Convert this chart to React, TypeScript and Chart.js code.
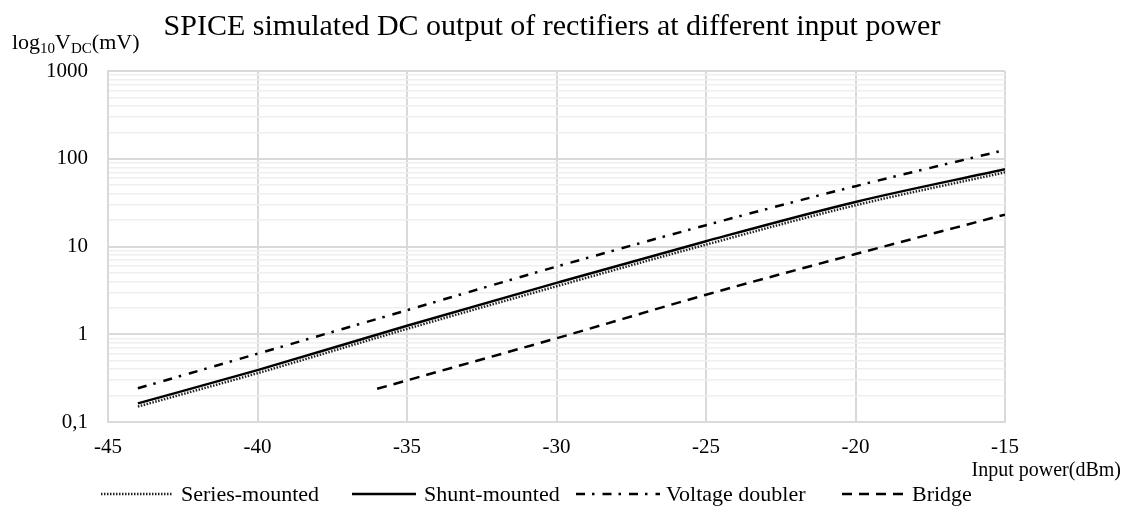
import React, { useEffect, useRef } from 'react';
import { Chart, registerables } from 'chart.js';

Chart.register(...registerables);

// ---- data ----
const xPower = [-44, -40, -35, -30, -25, -20, -15];
const seriesMounted = [0.15, 0.36, 1.15, 3.52, 10.5, 29.5, 70];
const shuntMounted = [0.163, 0.39, 1.25, 3.85, 11.5, 32.2, 76];
const voltageDoubler = [0.242, 0.6, 1.88, 5.9, 17.5, 48.7, 126];
const xBridge = [-36, -35, -30, -25, -20, -15];
const bridge = [0.239, 0.298, 0.9, 2.82, 8.2, 23.1];

const xTickValues = [-45, -40, -35, -30, -25, -20, -15];
const yTickValues = [0.1, 1, 10, 100, 1000];
const yTickLabels = ['0,1', '1', '10', '100', '1000'];
const seriesNames = ['Series-mounted', 'Shunt-mounted', 'Voltage doubler', 'Bridge'];

const TITLE = 'SPICE simulated DC output of rectifiers at different input power';
const X_TITLE = 'Input power(dBm)';

const FONT = "'Liberation Serif', 'Times New Roman', serif";

const toPoints = (xs: number[], ys: number[]) => xs.map((x, i) => ({ x, y: ys[i] }));

const legendLayout = [
  { sx: 101, ex: 172, tx: 181 },
  { sx: 352, ex: 416, tx: 424 },
  { sx: 576, ex: 660, tx: 666 },
  { sx: 842, ex: 905, tx: 912 },
];

const decorPlugin = {
  id: 'decor',
  afterDraw(chart: any) {
    const ctx = chart.ctx as CanvasRenderingContext2D;
    ctx.save();
    ctx.fillStyle = '#000';
    // title
    ctx.font = `30px ${FONT}`;
    ctx.textAlign = 'center';
    ctx.textBaseline = 'alphabetic';
    ctx.fillText(TITLE, 552, 35);

    // y axis label with subscripts
    ctx.textAlign = 'left';
    let x = 12;
    const base = 49;
    const parts: [string, boolean][] = [
      ['log', false],
      ['10', true],
      ['V', false],
      ['DC', true],
      ['(mV)', false],
    ];
    for (const [t, sub] of parts) {
      ctx.font = sub ? `15px ${FONT}` : `22px ${FONT}`;
      ctx.fillText(t, x, sub ? base + 4 : base);
      x += ctx.measureText(t).width;
    }

    // x axis title
    ctx.font = `20px ${FONT}`;
    ctx.textAlign = 'right';
    ctx.textBaseline = 'middle';
    ctx.fillText(X_TITLE, 1121, 471);

    // legend
    const ly = 494;
    ctx.textAlign = 'left';
    ctx.font = `22px ${FONT}`;
    chart.data.datasets.forEach((ds: any, i: number) => {
      const L = legendLayout[i];
      ctx.strokeStyle = ds.borderColor;
      ctx.lineWidth = ds.borderWidth;
      ctx.setLineDash(ds.borderDash || []);
      ctx.beginPath();
      ctx.moveTo(L.sx, ly);
      ctx.lineTo(L.ex, ly);
      ctx.stroke();
      ctx.setLineDash([]);
      ctx.fillStyle = '#000';
      ctx.textBaseline = 'middle';
      ctx.fillText(ds.label, L.tx, ly + 1);
    });
    ctx.restore();
  },
};

export default function App() {
  const ref = useRef<HTMLCanvasElement | null>(null);

  useEffect(() => {
    if (!ref.current) return;
    Chart.defaults.font.family = FONT;
    const chart = new Chart(ref.current, {
      type: 'line',
      data: {
        datasets: [
          {
            label: seriesNames[0],
            data: toPoints(xPower, seriesMounted),
            borderColor: '#222',
            borderWidth: 2.5,
            borderDash: [1.5, 1.5],
            pointRadius: 0,
            cubicInterpolationMode: 'monotone',
          },
          {
            label: seriesNames[1],
            data: toPoints(xPower, shuntMounted),
            borderColor: '#000',
            borderWidth: 2.5,
            pointRadius: 0,
            cubicInterpolationMode: 'monotone',
          },
          {
            label: seriesNames[2],
            data: toPoints(xPower, voltageDoubler),
            borderColor: '#000',
            borderWidth: 2.5,
            borderDash: [9, 7, 2.5, 8],
            pointRadius: 0,
            cubicInterpolationMode: 'monotone',
          },
          {
            label: seriesNames[3],
            data: toPoints(xBridge, bridge),
            borderColor: '#000',
            borderWidth: 2.5,
            borderDash: [10, 7],
            pointRadius: 0,
            cubicInterpolationMode: 'monotone',
          },
        ],
      } as any,
      options: {
        animation: false,
        responsive: false,
        layout: { padding: { left: 0, right: 122, top: 71, bottom: 0 } },
        plugins: {
          legend: { display: false },
          title: { display: false },
          tooltip: { enabled: false },
        },
        scales: {
          x: {
            type: 'linear',
            min: -45,
            max: -15,
            afterBuildTicks: (scale: any) => {
              scale.ticks = xTickValues.map((v) => ({ value: v }));
            },
            afterFit: (scale: any) => {
              scale.height = 90;
            },
            ticks: {
              autoSkip: false,
              maxRotation: 0,
              padding: 13,
              color: '#000',
              font: { size: 21, family: FONT },
              callback: (v: any) => String(v),
            },
            grid: { color: '#d9d9d9', lineWidth: 2, drawTicks: false },
            border: { color: '#d9d9d9', width: 2 },
          },
          y: {
            type: 'logarithmic',
            min: 0.1,
            max: 1000,
            afterBuildTicks: (scale: any) => {
              const t: any[] = [];
              for (let d = 0; d < yTickValues.length - 1; d++) {
                for (let k = 1; k <= 9; k++) {
                  t.push({ value: yTickValues[d] * k, major: k === 1 });
                }
              }
              t.push({ value: yTickValues[yTickValues.length - 1], major: true });
              scale.ticks = t;
            },
            afterFit: (scale: any) => {
              scale.width = 108;
            },
            ticks: {
              autoSkip: false,
              padding: 20,
              color: '#000',
              font: { size: 21, family: FONT },
              callback: (v: any, i: number, ticks: any[]) => {
                if (!ticks[i] || !ticks[i].major) return '';
                const idx = yTickValues.findIndex((tv) => Math.abs(tv - v) / tv < 1e-6);
                return idx >= 0 ? yTickLabels[idx] : '';
              },
            },
            grid: {
              drawTicks: false,
              color: (c: any) => (c.tick && c.tick.major ? '#d9d9d9' : '#efefef'),
              lineWidth: (c: any) => (c.tick && c.tick.major ? 2 : 1.5),
            },
            border: { color: '#d9d9d9', width: 2 },
          },
        },
      } as any,
      plugins: [decorPlugin],
    });
    return () => chart.destroy();
  }, []);

  return (
    <div style={{ position: 'absolute', left: 0, top: 0, width: 1127, height: 512, background: '#fff' }}>
      <canvas ref={ref} width={1127} height={512} />
    </div>
  );
}
